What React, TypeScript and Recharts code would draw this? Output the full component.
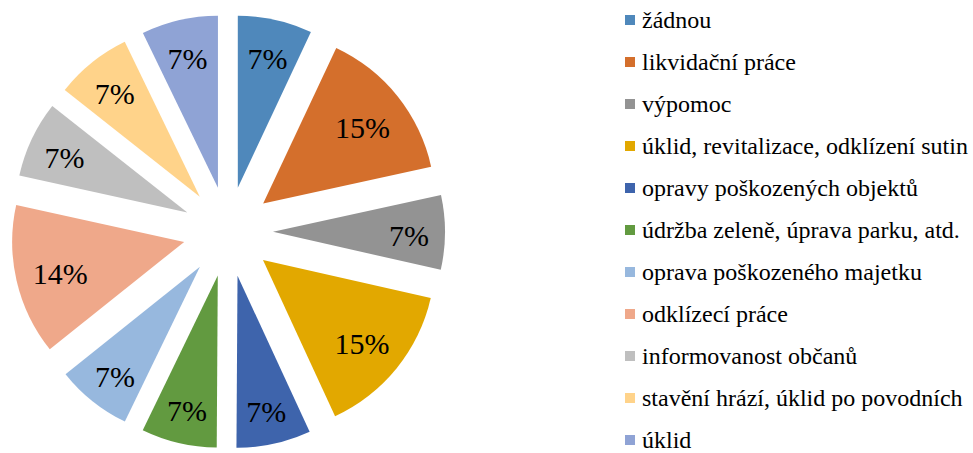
import { PieChart, Pie, Cell, Sector, Legend } from "recharts"

const categories = [
  "žádnou",
  "likvidační práce",
  "výpomoc",
  "úklid, revitalizace, odklízení sutin",
  "opravy poškozených objektů",
  "údržba zeleně, úprava parku, atd.",
  "oprava poškozeného majetku",
  "odklízecí práce",
  "informovanost občanů",
  "stavění hrází, úklid po povodních",
  "úklid",
]
// shares; labels show them rounded
const shares = [7.0, 14.6, 7.0, 14.6, 7.0, 7.1, 7.1, 14.2, 7.2, 7.2, 7.2]
const colors = [
  "#4F88BB", "#D46F2C", "#939393", "#E2A800", "#3E64AC", "#629A40",
  "#97B8DE", "#EFA88A", "#BFBFBF", "#FFD38A", "#8FA3D5",
]

const data = categories.map((name, i) => ({ name, value: shares[i] }))

const RAD = Math.PI / 180
const EXPLODE = 45
const FONT = "'Liberation Serif', 'Times New Roman', serif"

const ExplodedSlice = (props: any) => {
  const { cx, cy, midAngle, outerRadius, startAngle, endAngle, fill } = props
  const dx = EXPLODE * Math.cos(-midAngle * RAD)
  const dy = EXPLODE * Math.sin(-midAngle * RAD)
  return (
    <Sector
      cx={cx + dx}
      cy={cy + dy}
      innerRadius={0}
      outerRadius={outerRadius}
      startAngle={startAngle}
      endAngle={endAngle}
      fill={fill}
      stroke="none"
    />
  )
}

const SliceLabel = (props: any) => {
  const { cx, cy, midAngle, outerRadius, percent } = props
  const pct = Math.round(percent * 100)
  // narrow slices push their label further out, like Excel's best fit
  const d = EXPLODE + outerRadius * (pct < 10 ? 0.79 : 0.74)
  const x = cx + d * Math.cos(-midAngle * RAD)
  const y = cy + d * Math.sin(-midAngle * RAD) + 3
  return (
    <text x={x} y={y} textAnchor="middle" dominantBaseline="central" fontFamily={FONT} fontSize={30} fill="#000">
      {pct}%
    </text>
  )
}

const LegendList = () => (
  <div style={{ fontFamily: FONT, fontSize: 24, color: "#000" }}>
    {categories.map((name, i) => (
      <div key={name} style={{ display: "flex", alignItems: "center", height: 42, whiteSpace: "nowrap" }}>
        <span style={{ width: 10, height: 10, background: colors[i], marginRight: 7, display: "inline-block", flexShrink: 0 }} />
        <span style={{ lineHeight: "18px" }}>{name}</span>
      </div>
    ))}
  </div>
)

export default function App() {
  return (
    <div style={{ position: "absolute", left: 0, top: 0, background: "#fff" }}>
      <PieChart width={973} height={453} margin={{ top: 0, right: 0, bottom: 0, left: 0 }}>
        <Pie
          data={data}
          dataKey="value"
          nameKey="name"
          cx={228}
          cy={231.7}
          outerRadius={172}
          startAngle={90}
          endAngle={-270}
          shape={ExplodedSlice}
          activeShape={ExplodedSlice}
          inactiveShape={ExplodedSlice}
          label={SliceLabel}
          labelLine={false}
          isAnimationActive={false}
        >
          {data.map((_, i) => (
            <Cell key={i} fill={colors[i]} stroke="none" />
          ))}
        </Pie>
        <Legend
          layout="vertical"
          align="right"
          verticalAlign="top"
          content={LegendList}
          wrapperStyle={{ left: 625, top: -1.5, width: 348 }}
        />
      </PieChart>
    </div>
  )
}
